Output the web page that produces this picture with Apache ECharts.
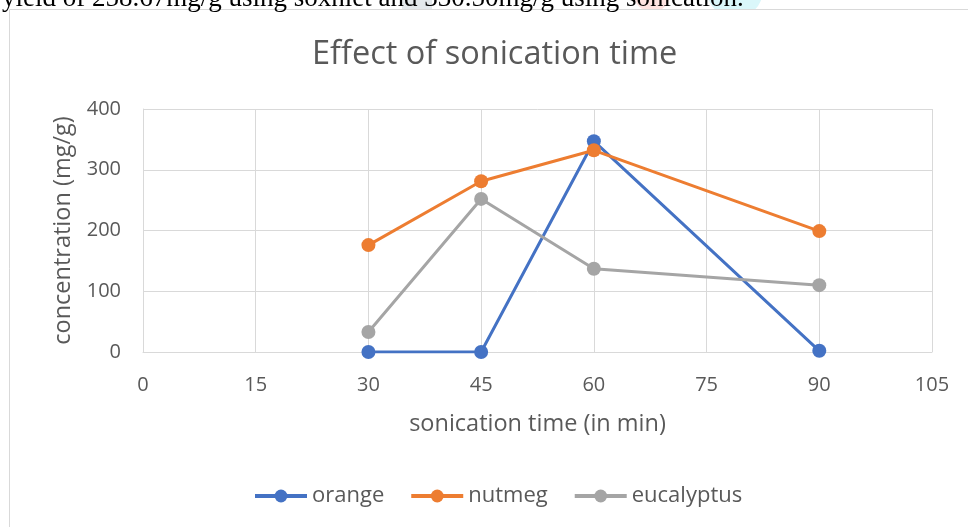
<!DOCTYPE html>
<html><head><meta charset="utf-8">
<script src="https://cdn.jsdelivr.net/npm/echarts@6/dist/echarts.min.js"></script>
<style>html,body{margin:0;padding:0;background:#fff}#c{width:968px;height:527px}</style>
</head><body><div id="c"></div>
<script>
const xTicks = [0, 15, 30, 45, 60, 75, 90, 105];
const times = [30, 45, 60, 90];
const orange = [0, 0, 347, 2];
const nutmeg = [176, 281, 332, 199];
const eucalyptus = [33, 252, 137, 110];
const seriesNames = ['orange', 'nutmeg', 'eucalyptus'];
const colors = ['#4472C4', '#ED7D31', '#A5A5A5'];

const font = '"Open Sans", sans-serif';
const chart = echarts.init(document.getElementById('c'));
const mk = (name, vals, color) => ({
  name, type: 'line', data: times.map((t, i) => [t, vals[i]]),
  symbol: 'circle', symbolSize: 14, lineStyle: {width: 3, color},
  itemStyle: {color}, animation: false
});
chart.setOption({
  animation: false,
  graphic: [
    {type: 'rect', shape: {x: 402, y: -2, width: 30, height: 12}, style: {fill: '#e3e8eb'}, z: -20},
    {type: 'circle', shape: {cx: 652, cy: -6, r: 18}, style: {fill: '#fde3e1'}, z: -20},
    {type: 'circle', shape: {cx: 735, cy: -10, r: 28}, style: {fill: '#daf7fa'}, z: -20},
    {type: 'rect', shape: {x: 9.5, y: 9.5, width: 1000, height: 600}, style: {fill: '#fff', stroke: '#d9d9d9', lineWidth: 1}, z: -10},
    {type: 'text', x: 2, y: -15, style: {text: 'yield of 258.67mg/g using soxhlet and 330.50mg/g using sonication.', font: '27px "Liberation Serif", serif', fill: '#000'}, z: -5}
  ],
  title: {text: 'Effect of sonication time', left: 307, top: 33,
    textStyle: {fontFamily: font, fontSize: 32.5, fontWeight: 'normal', color: '#595959'}},
  legend: {top: 480, left: 248, itemWidth: 52, itemHeight: 16, itemGap: 25,
    data: seriesNames, lineStyle: {width: 4},
    textStyle: {fontFamily: font, fontSize: 22, color: '#595959'}},
  grid: {left: 143, right: 36, top: 109, bottom: 175},
  xAxis: {type: 'value', min: 0, max: 105, interval: 15,
    name: 'sonication time (in min)', nameLocation: 'middle', nameGap: 60,
    nameTextStyle: {fontFamily: font, fontSize: 23.5, color: '#595959'},
    axisLine: {show: true, lineStyle: {color: '#d9d9d9', width: 1}},
    axisTick: {show: false},
    axisLabel: {fontFamily: font, fontSize: 20, color: '#595959', margin: 23,
      formatter: v => xTicks.includes(v) ? String(v) : ''},
    splitLine: {show: true, lineStyle: {color: '#d9d9d9', width: 1}}},
  yAxis: {type: 'value', min: 0, max: 400, interval: 100,
    name: 'concentration (mg/g)', nameLocation: 'middle', nameGap: 68,
    nameTextStyle: {fontFamily: font, fontSize: 23.5, color: '#595959'},
    axisLine: {show: true, lineStyle: {color: '#d9d9d9'}},
    axisTick: {show: false},
    axisLabel: {fontFamily: font, fontSize: 20, color: '#595959', margin: 22},
    splitLine: {show: true, lineStyle: {color: '#d9d9d9', width: 1}}},
  series: [mk('orange', orange, colors[0]), mk('nutmeg', nutmeg, colors[1]), mk('eucalyptus', eucalyptus, colors[2])]
});
</script></body></html>
